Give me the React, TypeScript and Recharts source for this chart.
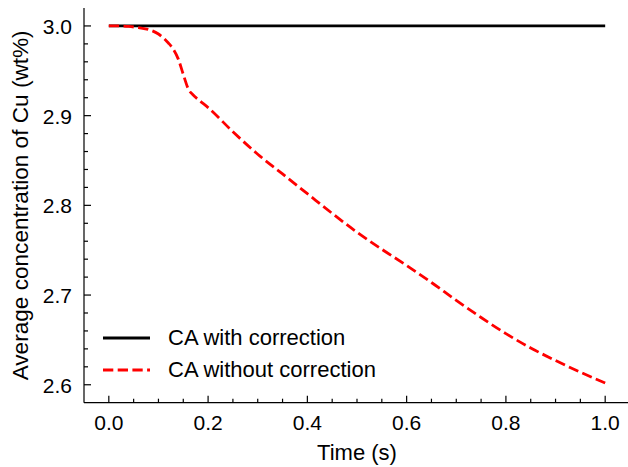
import { LineChart, Line, XAxis, YAxis, Legend } from "recharts";

const timeValues = [
  0, 0.02, 0.04, 0.06, 0.08, 0.1, 0.12, 0.13, 0.14, 0.15, 0.16, 0.17, 0.18, 0.2, 0.25,
  0.3, 0.35, 0.4, 0.45, 0.5, 0.55, 0.6, 0.65, 0.7, 0.75, 0.8, 0.85, 0.9, 0.95, 1.0,
];
const withCorrection = timeValues.map(() => 3.0);
const withoutCorrection = [
  3.0, 3.0, 2.9995, 2.998, 2.996, 2.991, 2.981, 2.974, 2.963, 2.946, 2.93, 2.923, 2.918, 2.909, 2.882,
  2.857, 2.835, 2.813, 2.791, 2.77, 2.751, 2.733, 2.714, 2.694, 2.675, 2.657, 2.641, 2.627, 2.614, 2.602,
];

const xTicks = [
  0, 0.05, 0.1, 0.15, 0.2, 0.25, 0.3, 0.35, 0.4, 0.45, 0.5, 0.55, 0.6, 0.65, 0.7, 0.75, 0.8, 0.85, 0.9,
  0.95, 1.0,
];
const yTicks = [
  2.6, 2.62, 2.64, 2.66, 2.68, 2.7, 2.72, 2.74, 2.76, 2.78, 2.8, 2.82, 2.84, 2.86, 2.88, 2.9, 2.92,
  2.94, 2.96, 2.98, 3.0,
];

const data = timeValues.map((t, i) => ({
  t,
  withCorr: withCorrection[i],
  withoutCorr: withoutCorrection[i],
}));

const FONT = "'Liberation Sans', Arial, sans-serif";
const MAJOR = 7;
const MINOR = 4;

const isMajor = (v: number, step: number) => Math.abs(v / step - Math.round(v / step)) < 1e-6;

function BottomTick(props: any) {
  const { x, y, payload } = props;
  const major = isMajor(payload.value, 0.2);
  return (
    <g>
      <line x1={x} x2={x} y1={y} y2={y - (major ? MAJOR : MINOR)} stroke="#000" strokeWidth={1.2} />
      {major && (
        <text x={x} y={y + 27} textAnchor="middle" fontSize={21} fontFamily={FONT} fill="#000">
          {payload.value.toFixed(1)}
        </text>
      )}
    </g>
  );
}

function TopTick(props: any) {
  const { x, y, payload } = props;
  const major = isMajor(payload.value, 0.2);
  return <line x1={x} x2={x} y1={y} y2={y + (major ? MAJOR : MINOR)} stroke="#000" strokeWidth={1.2} />;
}

function LeftTick(props: any) {
  const { x, y, payload } = props;
  const major = isMajor(payload.value, 0.1);
  return (
    <g>
      <line x1={x} x2={x + (major ? MAJOR : MINOR)} y1={y} y2={y} stroke="#000" strokeWidth={1.2} />
      {major && (
        <text x={x - 12} y={y + 8} textAnchor="end" fontSize={21} fontFamily={FONT} fill="#000">
          {payload.value.toFixed(1)}
        </text>
      )}
    </g>
  );
}

function RightTick(props: any) {
  const { x, y, payload } = props;
  const major = isMajor(payload.value, 0.1);
  return <line x1={x} x2={x - (major ? MAJOR : MINOR)} y1={y} y2={y} stroke="#000" strokeWidth={1.2} />;
}

function LegendContent(props: any) {
  const items = props.payload || [];
  return (
    <div>
      {items.map((entry: any) => (
        <div key={entry.value} style={{ display: "flex", alignItems: "center", height: 32 }}>
          <svg width={47} height={32}>
            <line
              x1={0}
              x2={47}
              y1={16}
              y2={16}
              stroke={entry.color}
              strokeWidth={2.8}
              strokeDasharray={entry.payload?.strokeDasharray}
            />
          </svg>
          <span style={{ marginLeft: 18, fontSize: 22, fontFamily: FONT, color: "#000", whiteSpace: "nowrap" }}>
            {entry.value}
          </span>
        </div>
      ))}
    </div>
  );
}

export default function App() {
  const axisLine = { stroke: "#000", strokeWidth: 1.2 };
  return (
    <div style={{ position: "absolute", left: 0, top: 0, width: 628, height: 467, overflow: "hidden", background: "#fff" }}>
      <LineChart width={640} height={467} data={data} margin={{ top: 8, right: 10, left: 0, bottom: 0 }}>
        <XAxis
          dataKey="t"
          type="number"
          domain={[-0.05, 1.05]}
          ticks={xTicks}
          interval={0}
          allowDataOverflow
          height={64.3}
          tickSize={0}
          tickMargin={0}
          tickLine={false}
          axisLine={axisLine}
          tick={<BottomTick />}
          label={{
            content: (p: any) => {
              const vb = p.viewBox || { x: 84, y: 402.7, width: 546, height: 64.3 };
              return (
                <text x={vb.x + vb.width / 2} y={vb.y + 57} textAnchor="middle" fontSize={22} fontFamily={FONT} fill="#000">
                  Time (s)
                </text>
              );
            },
          }}
        />
        <XAxis
          xAxisId="top"
          orientation="top"
          type="number"
          domain={[-0.05, 1.05]}
          ticks={xTicks}
          interval={0}
          allowDataOverflow
          height={0}
          tickSize={0}
          tickMargin={0}
          tickLine={false}
          axisLine={axisLine}
          tick={<TopTick />}
        />
        <YAxis
          type="number"
          domain={[2.58, 3.02]}
          ticks={yTicks}
          interval={0}
          allowDataOverflow
          width={84}
          tickSize={0}
          tickMargin={0}
          tickLine={false}
          axisLine={axisLine}
          tick={<LeftTick />}
          label={{
            content: (p: any) => {
              const vb = p.viewBox || { x: 0, y: 8, width: 84, height: 394.7 };
              const cx = vb.x + 28;
              const cy = vb.y + vb.height / 2;
              return (
                <text
                  x={cx}
                  y={cy}
                  transform={`rotate(-90 ${cx} ${cy})`}
                  textAnchor="middle"
                  fontSize={22.6}
                  fontFamily={FONT}
                  fill="#000"
                >
                  Average concentration of Cu (wt%)
                </text>
              );
            },
          }}
        />
        <YAxis
          yAxisId="right"
          orientation="right"
          type="number"
          domain={[2.58, 3.02]}
          ticks={yTicks}
          interval={0}
          allowDataOverflow
          width={0}
          tickSize={0}
          tickMargin={0}
          tickLine={false}
          axisLine={axisLine}
          tick={<RightTick />}
        />
        <Legend
          layout="vertical"
          align="center"
          verticalAlign="middle"
          wrapperStyle={{ left: 103, top: 322, width: 320, height: 64 }}
          content={<LegendContent />}
        />
        <Line
          type="monotone"
          dataKey="withCorr"
          name="CA with correction"
          stroke="#000"
          strokeWidth={2.8}
          dot={false}
          isAnimationActive={false}
        />
        <Line
          type="monotone"
          dataKey="withoutCorr"
          name="CA without correction"
          stroke="#ff0000"
          strokeWidth={2.8}
          strokeDasharray="10.3 4.4"
          dot={false}
          isAnimationActive={false}
        />
      </LineChart>
    </div>
  );
}
